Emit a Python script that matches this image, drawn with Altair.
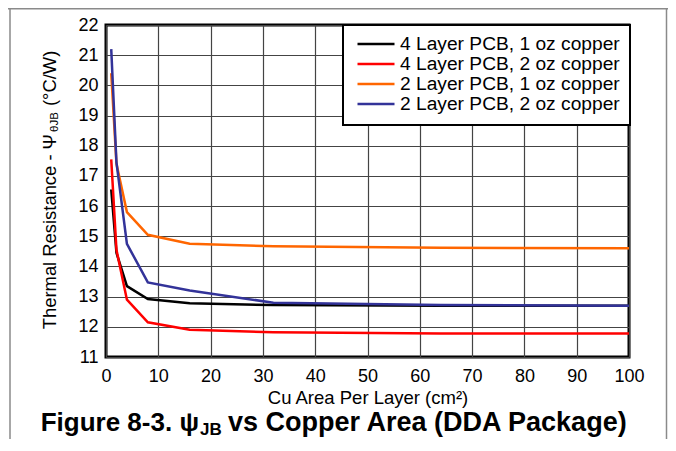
import altair as alt
import pandas as pd

# ---- data ----
area = [1, 2, 4, 8, 16, 32, 64, 100]
psi_4l_1oz = [16.55, 14.45, 13.35, 12.92, 12.78, 12.72, 12.70, 12.70]
psi_4l_2oz = [17.55, 14.55, 12.90, 12.15, 11.90, 11.82, 11.78, 11.78]
psi_2l_1oz = [20.40, 17.40, 15.80, 15.05, 14.75, 14.67, 14.62, 14.60]
psi_2l_2oz = [21.20, 17.45, 14.75, 13.47, 13.20, 12.80, 12.72, 12.70]

series_names = [
    "4 Layer PCB, 1 oz copper",
    "4 Layer PCB, 2 oz copper",
    "2 Layer PCB, 1 oz copper",
    "2 Layer PCB, 2 oz copper",
]
series_colors = ["#000000", "#ff0000", "#ff6600", "#333399"]

x_ticks = list(range(0, 101, 10))
y_ticks = list(range(11, 23))

x_title = "Cu Area Per Layer (cm²)"
y_title_parts = ["Thermal Resistance - Ψ", "θJB", "(°C/W)"]
caption_parts = ["Figure 8-3. ψ", "JB", "vs Copper Area (DDA Package)"]

FONT = "Liberation Sans"

rows = []
for name, vals in zip(series_names, [psi_4l_1oz, psi_4l_2oz, psi_2l_1oz, psi_2l_2oz]):
    for a, v in zip(area, vals):
        rows.append({"area": a, "psi": v, "series": name, "order": a})
df = pd.DataFrame(rows)

W, H = 523, 332

lines = alt.Chart(df).mark_line(strokeWidth=2.5, clip=True).encode(
    x=alt.X(
        "area:Q",
        scale=alt.Scale(domain=[0, 100], nice=False, zero=False),
        axis=alt.Axis(values=x_ticks, title=x_title, labelFontSize=18, titleFontSize=18.5,
                      labelPadding=10, titlePadding=3, format="d",
                      labelFlush=False, labelOverlap=False),
    ),
    y=alt.Y(
        "psi:Q",
        scale=alt.Scale(domain=[11, 22], nice=False, zero=False),
        axis=alt.Axis(values=y_ticks, title=None, labelFontSize=18, labelPadding=8, format="d",
                      labelFlush=False, labelOverlap=False),
    ),
    color=alt.Color(
        "series:N",
        scale=alt.Scale(domain=series_names, range=series_colors),
        legend=alt.Legend(
            title=None, orient="none", legendX=237, legendY=0, direction="vertical",
            symbolType="stroke", symbolSize=1369, symbolStrokeWidth=2.5,
            labelFontSize=19.2, labelFont=FONT, labelLimit=400, labelOffset=4,
            padding=10, strokeColor="#000000", fillColor="#ffffff",
            clipHeight=18, rowPadding=0, symbolOffset=3,
        ),
    ),
    order="order:Q",
    detail="series:N",
)

# y-axis title built from pieces (with a subscript)
yt = pd.DataFrame({"t": y_title_parts})
y_main = alt.Chart(yt.iloc[[0]]).mark_text(
    angle=270, align="right", baseline="middle", fontSize=18.4, font=FONT, color="black"
).encode(text="t:N", x=alt.value(-56), y=alt.value(109))
y_sub = alt.Chart(yt.iloc[[1]]).mark_text(
    angle=270, align="left", baseline="middle", fontSize=11.5, font=FONT, color="black"
).encode(text="t:N", x=alt.value(-51), y=alt.value(107))
y_end = alt.Chart(yt.iloc[[2]]).mark_text(
    angle=270, align="left", baseline="middle", fontSize=18.4, font=FONT, color="black"
).encode(text="t:N", x=alt.value(-56), y=alt.value(81))

# caption with subscript
cp = pd.DataFrame({"t": caption_parts})
cap_main = alt.Chart(cp.iloc[[0]]).mark_text(
    align="right", baseline="alphabetic", fontSize=26, fontWeight="bold", font=FONT, color="black"
).encode(text="t:N", x=alt.value(93), y=alt.value(406))
cap_sub = alt.Chart(cp.iloc[[1]]).mark_text(
    align="left", baseline="alphabetic", fontSize=17, fontWeight="bold", font=FONT, color="black"
).encode(text="t:N", x=alt.value(94), y=alt.value(410))
cap_end = alt.Chart(cp.iloc[[2]]).mark_text(
    align="left", baseline="alphabetic", fontSize=27, fontWeight="bold", font=FONT, color="black"
).encode(text="t:N", x=alt.value(122), y=alt.value(406))

# page frame lines of the document
frame_top = alt.Chart(pd.DataFrame({"k": [0]})).mark_rule(color="#8a8a8a", strokeWidth=1.5).encode(
    x=alt.value(-98), x2=alt.value(562), y=alt.value(-16.3))
frame_left = alt.Chart(pd.DataFrame({"k": [0]})).mark_rule(color="#8a8a8a", strokeWidth=1.5).encode(
    x=alt.value(-96), y=alt.value(-17), y2=alt.value(416))
frame_right = alt.Chart(pd.DataFrame({"k": [0]})).mark_rule(color="#8a8a8a", strokeWidth=1.5).encode(
    x=alt.value(560.5), y=alt.value(-17), y2=alt.value(416))

chart = alt.layer(
    lines, y_main, y_sub, y_end, cap_main, cap_sub, cap_end, frame_top, frame_left, frame_right
).properties(
    width=W, height=H,
    autosize=alt.AutoSizeParams(type="none"),
    padding={"left": 98, "top": 17, "right": 39, "bottom": 82},
).configure(
    font=FONT,
).configure_view(
    stroke="#000000", strokeWidth=3,
).configure_axis(
    domain=False, ticks=False, grid=True, gridColor="#444444", gridWidth=1.2, gridOpacity=1,
    labelColor="#000000", titleColor="#000000", labelFont=FONT, titleFont=FONT,
    titleFontWeight="normal",
).configure_legend(
    strokeWidth=2,
)

chart.save("out.html", embed_options={"renderer": "svg", "actions": False})
